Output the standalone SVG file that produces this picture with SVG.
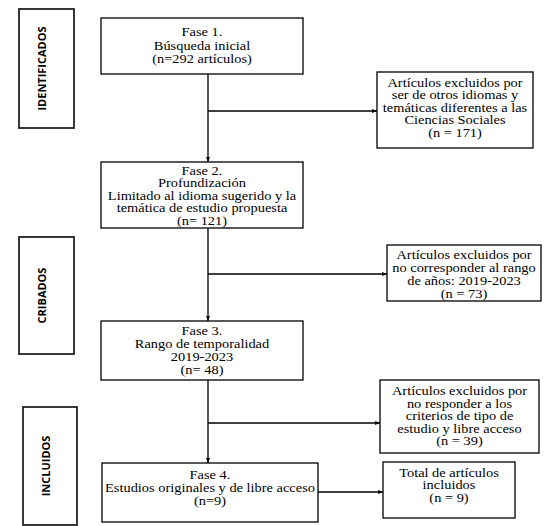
<svg xmlns="http://www.w3.org/2000/svg" width="550" height="526" viewBox="0 0 550 526">
<style>
.box{fill:#fff;stroke:#000;stroke-width:1.3}
.lbl{fill:#fff;stroke:#222;stroke-width:1.8}
.t{font-size:12px;fill:#000;text-anchor:middle}
.s{font-weight:700;font-size:11px;fill:#000;text-anchor:middle}
.c{fill:none;stroke:#000;stroke-width:1.3}
</style>
<defs>
<marker id="ah" viewBox="0 0 10 10" refX="10" refY="5" markerWidth="5" markerHeight="5" orient="auto" markerUnits="userSpaceOnUse">
<path d="M0,1 L10,5 L0,9 z" fill="#000"/>
</marker>
</defs>
<rect width="550" height="526" fill="#fff"/>

<g id="connectors">
<line class="c" x1="208" y1="74" x2="208" y2="162" marker-end="url(#ah)"/>
<line class="c" x1="208" y1="111" x2="377" y2="111" marker-end="url(#ah)"/>
<line class="c" x1="208" y1="228" x2="208" y2="321" marker-end="url(#ah)"/>
<line class="c" x1="208" y1="274" x2="387" y2="274" marker-end="url(#ah)"/>
<line class="c" x1="208" y1="380" x2="208" y2="463" marker-end="url(#ah)"/>
<line class="c" x1="208" y1="423" x2="380" y2="423" marker-end="url(#ah)"/>
<line class="c" x1="318" y1="492" x2="383" y2="492" marker-end="url(#ah)"/>
</g>

<g font-family="Open Sans, Liberation Sans, sans-serif">
<g id="label-identificados">
<rect class="lbl" x="19" y="9" width="55" height="119"/>
<text class="s" transform="translate(46 68.5) rotate(-90)" x="0" y="0">IDENTIFICADOS</text>
</g>
<g id="label-cribados">
<rect class="lbl" x="19" y="237" width="55" height="117"/>
<text class="s" transform="translate(46 295.5) rotate(-90)" x="0" y="0">CRIBADOS</text>
</g>
<g id="label-incluidos">
<rect class="lbl" x="23" y="407" width="54" height="118"/>
<text class="s" transform="translate(50 466) rotate(-90)" x="0" y="0">INCLUIDOS</text>
</g>
</g>

<g font-family="Liberation Serif, Times New Roman, serif">
<g id="fase1">
<rect class="box" x="101" y="18" width="202" height="56"/>
<g transform="translate(202 0) scale(1.2 1)">
<text class="t" x="0" y="36.5">Fase 1.</text>
<text class="t" x="0" y="50">Búsqueda inicial</text>
<text class="t" x="0" y="63.5">(n=292 artículos)</text>
</g>
</g>

<g id="excl1">
<rect class="box" x="377" y="72" width="156" height="76"/>
<g transform="translate(455 0) scale(1.2 1)">
<text class="t" x="0" y="87">Artículos excluidos por</text>
<text class="t" x="0" y="99.5">ser de otros idiomas y</text>
<text class="t" x="0" y="112">temáticas diferentes a las</text>
<text class="t" x="0" y="124.5">Ciencias Sociales</text>
<text class="t" x="0" y="137">(n = 171)</text>
</g>
</g>

<g id="fase2">
<rect class="box" x="101" y="162" width="202" height="66"/>
<g transform="translate(202 0) scale(1.2 1)">
<text class="t" x="0" y="175">Fase 2.</text>
<text class="t" x="0" y="187.5">Profundización</text>
<text class="t" x="0" y="200">Limitado al idioma sugerido y la</text>
<text class="t" x="0" y="212.5">temática de estudio propuesta</text>
<text class="t" x="0" y="225">(n= 121)</text>
</g>
</g>

<g id="excl2">
<rect class="box" x="387" y="245" width="154" height="56"/>
<g transform="translate(464 0) scale(1.2 1)">
<text class="t" x="0" y="259">Artículos excluidos por</text>
<text class="t" x="0" y="272">no corresponder al rango</text>
<text class="t" x="0" y="285">de años: 2019-2023</text>
<text class="t" x="0" y="298">(n = 73)</text>
</g>
</g>

<g id="fase3">
<rect class="box" x="101" y="321" width="202" height="59"/>
<g transform="translate(202 0) scale(1.2 1)">
<text class="t" x="0" y="335">Fase 3.</text>
<text class="t" x="0" y="348">Rango de temporalidad</text>
<text class="t" x="0" y="361.5">2019-2023</text>
<text class="t" x="0" y="374">(n= 48)</text>
</g>
</g>

<g id="excl3">
<rect class="box" x="380" y="380" width="159" height="73"/>
<g transform="translate(459.5 0) scale(1.2 1)">
<text class="t" x="0" y="395.5">Artículos excluidos por</text>
<text class="t" x="0" y="408">no responder a los</text>
<text class="t" x="0" y="420.5">criterios de tipo de</text>
<text class="t" x="0" y="433">estudio y libre acceso</text>
<text class="t" x="0" y="445.5">(n = 39)</text>
</g>
</g>

<g id="fase4">
<rect class="box" x="102" y="463" width="216" height="59"/>
<g transform="translate(210 0) scale(1.2 1)">
<text class="t" x="0" y="479">Fase 4.</text>
<text class="t" x="0" y="492">Estudios originales y de libre acceso</text>
<text class="t" x="0" y="505.5">(n=9)</text>
</g>
</g>

<g id="total">
<rect class="box" x="383" y="462" width="132" height="56"/>
<g transform="translate(449 0) scale(1.2 1)">
<text class="t" x="0" y="477">Total de artículos</text>
<text class="t" x="0" y="489.5">incluidos</text>
<text class="t" x="0" y="502">(n = 9)</text>
</g>
</g>
</g>
</svg>
